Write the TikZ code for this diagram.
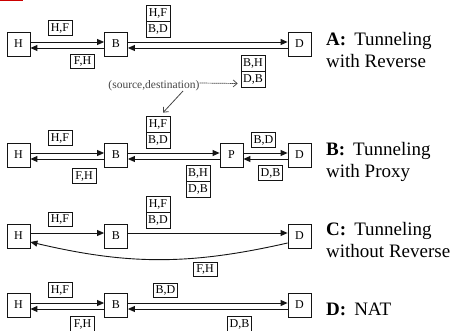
\documentclass[tikz,border=0pt]{standalone}
\usepackage{fontspec}
\setmainfont{Liberation Serif}
\usetikzlibrary{arrows.meta}

\begin{document}
\begin{tikzpicture}[x=1pt, y=-1pt, font=\fontsize{12}{13}\selectfont]

\definecolor{linecolor}{RGB}{20,20,20}
\definecolor{notecolor}{RGB}{70,70,70}
\definecolor{markred}{RGB}{204,0,0}

\tikzset{
  host/.style={draw=linecolor, line width=0.8pt, minimum width=23pt, minimum height=24pt, inner sep=0pt},
  tag/.style={draw=linecolor, line width=0.7pt, minimum width=24pt, minimum height=14.5pt, inner sep=1.5pt, font=\fontsize{12}{12}\selectfont},
  tagpair/.style={tag, minimum height=16pt},
  ar/.style={-{Triangle[length=7pt, width=6pt]}, line width=0.9pt, draw=linecolor},
  note/.style={-{Straight Barb[length=4pt, width=7pt]}, dash pattern=on 1.4pt off 0.6pt, line width=0.7pt, draw=notecolor},
  caption/.style={anchor=base west, align=left, inner sep=0pt, font=\fontsize{19}{22}\selectfont},
}

% two stacked address boxes: name, x, y, top text, bottom text
\newcommand{\addrpair}[5]{%
  \node[tagpair] (#1t) at (#2, #3-8) {#4};
  \node[tagpair] (#1b) at (#2, #3+8) {#5};
}

\useasboundingbox (0,0) rectangle (452,331);
\fill[markred] (0,0) rectangle (23,1.5);

% A: tunneling with reverse
\node[host] (H1) at (18.5, 44) {H};
\node[host] (B1) at (116, 44) {B};
\node[host] (D1) at (299.5, 44) {D};
\node[tag] (HF1) at (60, 28) {H,F};
\node[tag] (FH1) at (82.5, 61.5) {F,H};
\addrpair{pA1}{158}{21}{H,F}{B,D}
\addrpair{pA2}{253}{71.5}{B,H}{D,B}
\draw[ar] ([yshift=2pt]H1.east) -- ([yshift=2pt]B1.west);
\draw[ar] ([yshift=-4pt]B1.west) -- ([yshift=-4pt]H1.east);
\draw[ar] ([yshift=2pt]B1.east) -- ([yshift=2pt]D1.west);
\draw[ar] ([yshift=-4pt]D1.west) -- ([yshift=-4pt]B1.east);
\node[caption] (capA) at (326, 67.5) {\textbf{A:}\hspace{8pt}Tunneling\\with Reverse};

% B: tunneling with proxy
\node[host] (H2) at (18.5, 155) {H};
\node[host] (B2) at (116, 155) {B};
\node[host] (P2) at (231.5, 155) {P};
\node[host] (D2) at (299.5, 155) {D};
\node[tag] (HF2) at (60, 138) {H,F};
\node[tag] (FH2) at (84, 176) {F,H};
\node[tag] (BD2) at (263.5, 140) {B,D};
\node[tag] (DB2) at (270.5, 173) {D,B};
\addrpair{pB1}{158}{132}{H,F}{B,D}
\addrpair{pB2}{198}{181.5}{B,H}{D,B}
\draw[ar] ([yshift=2pt]H2.east) -- ([yshift=2pt]B2.west);
\draw[ar] ([yshift=-4pt]B2.west) -- ([yshift=-4pt]H2.east);
\draw[ar] ([yshift=2pt]B2.east) -- ([yshift=2pt]P2.west);
\draw[ar] ([yshift=-4pt]P2.west) -- ([yshift=-4pt]B2.east);
\draw[ar] ([yshift=2pt]P2.east) -- ([yshift=2pt]D2.west);
\draw[ar] ([yshift=-4pt]D2.west) -- ([yshift=-4pt]P2.east);
\node[caption] (capB) at (326, 177.5) {\textbf{B:}\hspace{8pt}Tunneling\\with Proxy};

% note on the address pairs
\node[text=notecolor, inner sep=0pt, font=\fontsize{11.5}{12}\selectfont] (src) at (154, 86) {(source,destination)};
\coordinate (srcfoot) at (183, 91);
\draw[note] ([yshift=3pt]src.east) -- ([xshift=-3pt, yshift=-4pt]pA2b.west);
\draw[note, solid, line width=0.8pt] (srcfoot) -- ([xshift=5pt, yshift=3pt]pB1t.north);

% C: tunneling without reverse
\node[host] (H3) at (18.5, 236) {H};
\node[host] (B3) at (116, 236) {B};
\node[host] (D3) at (299.5, 236) {D};
\node[tag] (HF3) at (60, 219.5) {H,F};
\node[tag] (FH3) at (205, 269.5) {F,H};
\addrpair{pC1}{158}{212}{H,F}{B,D}
\draw[ar] ([yshift=3pt]H3.east) -- ([yshift=3pt]B3.west);
\draw[ar] ([yshift=3pt]B3.east) -- ([yshift=3pt]D3.west);
\draw[ar] ([yshift=-7pt]D3.west) to[bend left=13] ([yshift=-6pt]H3.east);
\node[caption] (capC) at (326, 257) {\textbf{C:}\hspace{8pt}Tunneling\\without Reverse};

% D: NAT
\node[host] (H4) at (18.5, 305) {H};
\node[host] (B4) at (116, 305) {B};
\node[host] (D4) at (299.5, 305) {D};
\node[tag] (HF4) at (60, 290) {H,F};
\node[tag] (FH4) at (82.5, 324) {F,H};
\node[tag] (BD4) at (165.5, 290.5) {B,D};
\node[tag] (DB4) at (239.5, 324) {D,B};
\draw[ar] ([yshift=2pt]H4.east) -- ([yshift=2pt]B4.west);
\draw[ar] ([yshift=-4pt]B4.west) -- ([yshift=-4pt]H4.east);
\draw[ar] ([yshift=2pt]B4.east) -- ([yshift=2pt]D4.west);
\draw[ar] ([yshift=-4pt]D4.west) -- ([yshift=-4pt]B4.east);
\node[caption] (capD) at (326, 315) {\textbf{D:}\hspace{8pt}NAT};

\end{tikzpicture}
\end{document}
